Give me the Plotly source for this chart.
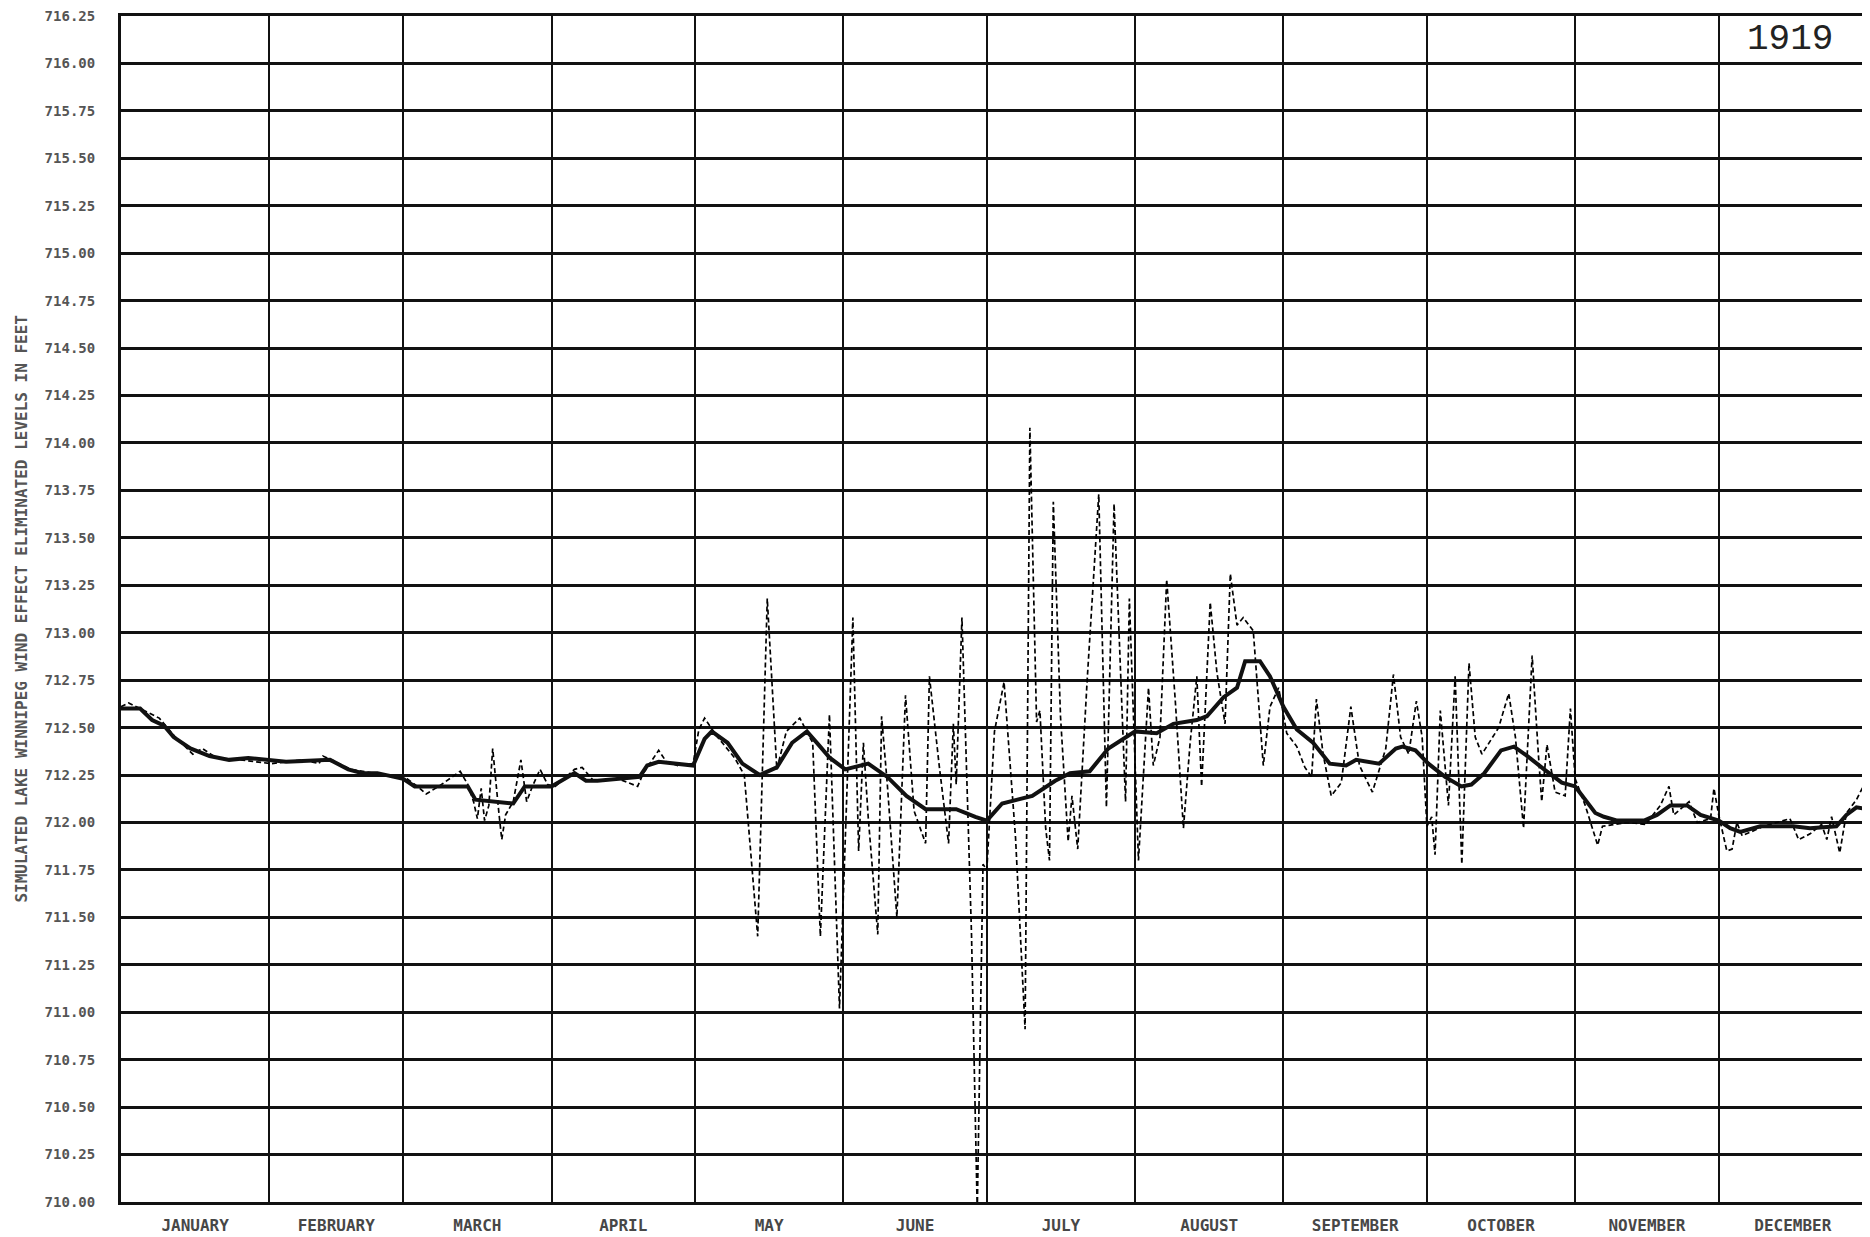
import plotly.graph_objects as go

# ---------------- data ----------------
month_names = ["JANUARY", "FEBRUARY", "MARCH", "APRIL", "MAY", "JUNE",
               "JULY", "AUGUST", "SEPTEMBER", "OCTOBER", "NOVEMBER", "DECEMBER"]
month_starts = [0, 31, 59, 90, 120, 151, 181, 212, 243, 273, 304, 334, 365]

y_ticks = [710.00, 710.25, 710.50, 710.75, 711.00, 711.25, 711.50, 711.75,
           712.00, 712.25, 712.50, 712.75, 713.00, 713.25, 713.50, 713.75,
           714.00, 714.25, 714.50, 714.75, 715.00, 715.25, 715.50, 715.75,
           716.00, 716.25]

year_label = "1919"
y_title = "SIMULATED LAKE WINNIPEG WIND EFFECT ELIMINATED LEVELS IN FEET"

# smoothed (solid) series: day of year, level (ft)
solid_day = [0, 4, 6.5, 9, 11, 14.5, 18.5, 22.6, 26.6, 30.6,
             34.5, 43.7, 47.5, 50.5, 53.6, 59, 61.4, 72.5, 74.1, 82,
             84.4, 90, 94.8, 97.2, 99.6, 108.4, 110, 112.4, 119.6, 122,
             123.5, 126.8, 129.9, 133.5, 137.1, 140.3, 143.4, 145.8, 148.2, 151.4,
             156.2, 160.2, 164.2, 168.2, 174.6, 178.6, 181, 184.2, 190.5, 195.3,
             198.4, 202.5, 206.4, 212, 216.5, 220, 224.9, 227, 230.5, 233.3,
             235, 238.1, 240.2, 243, 245.8, 249.2, 252.7, 256.1, 258.2, 263,
             266.5, 267.9, 270.6, 273.3, 276.8, 280.2, 282.3, 285, 288.5, 291.2,
             294, 297.5, 301.2, 304, 308.2, 310, 312.8, 318.4, 321.1, 323.9,
             327.4, 330.2, 334, 336.4, 338.5, 342.7, 349.6, 353.1, 358.6, 360.7,
             362.8, 365]
solid_val = [712.60, 712.60, 712.54, 712.51, 712.45, 712.39, 712.35, 712.33, 712.34, 712.33,
             712.32, 712.33, 712.28, 712.26, 712.26, 712.23, 712.19, 712.19, 712.12, 712.10,
             712.19, 712.19, 712.26, 712.22, 712.22, 712.24, 712.30, 712.32, 712.30, 712.44,
             712.48, 712.42, 712.31, 712.25, 712.29, 712.42, 712.48, 712.41, 712.34, 712.28,
             712.31, 712.24, 712.14, 712.07, 712.07, 712.03, 712.01, 712.10, 712.14, 712.22,
             712.26, 712.27, 712.39, 712.48, 712.47, 712.52, 712.54, 712.56, 712.66, 712.71,
             712.85, 712.85, 712.77, 712.61, 712.49, 712.42, 712.31, 712.30, 712.33, 712.31,
             712.39, 712.40, 712.38, 712.31, 712.24, 712.19, 712.20, 712.26, 712.38, 712.40,
             712.35, 712.28, 712.21, 712.19, 712.05, 712.03, 712.01, 712.01, 712.04, 712.09,
             712.09, 712.04, 712.01, 711.97, 711.95, 711.98, 711.98, 711.97, 711.98, 712.04,
             712.08, 712.07]

# raw (dashed) series: day of year, level (ft)
raw_day = [0, 1.6, 4, 8, 11, 15, 17, 20, 25, 31.4,
           38, 41.4, 42.2, 44, 48, 53, 59.8, 62, 63.8, 67,
           70.9, 72.5, 73.7, 74.5, 75.3, 76, 76.9, 77.7, 78.4, 79,
           79.6, 80.4, 82, 83.6, 84.8, 86, 87.6, 89.2, 90.8, 94.8,
           96.4, 98.8, 104, 108, 109.2, 112.4, 114, 116.4, 119.6, 120.8,
           122, 124.4, 128.3, 130.3, 133.1, 135.1, 137.1, 139.1, 141.9, 144.6,
           146.2, 148.1, 150.2, 153, 154.2, 155.2, 156.2, 158.2, 159, 160.2,
           162.2, 164, 165.8, 168.2, 169, 171, 173, 174, 174.6, 175.8,
           177.8, 179, 180.2, 181, 182.6, 184.6, 187, 189, 190, 191.4,
           192.1, 193.3, 194.1, 194.9, 196.4, 198, 198.8, 200, 202, 204.4,
           206, 207.6, 210, 210.8, 212.7, 214.8, 215.8, 217.2, 218.6, 220.4,
           222.1, 223.5, 224.9, 225.9, 227.7, 229.1, 230.8, 231.9, 233.3, 234.6,
           236.7, 238.8, 240.2, 242, 243.7, 245.8, 247.5, 248.9, 249.9, 251.3,
           253, 255.1, 257.1, 258.9, 261.6, 263, 264.4, 266, 267.5, 269.2,
           270.8, 272, 273, 274, 274.7, 275.8, 277.5, 278.9, 280.3, 281.8,
           283.1, 284.5, 288, 290.1, 291.5, 293.2, 295, 296.3, 297, 298.1,
           299.8, 301.9, 303, 304, 306.1, 308.7, 309.7, 314.9, 318.7, 321.8,
           323.6, 324.6, 327.8, 329.5, 332.3, 333, 334, 335.7, 336.8, 337.8,
           338.9, 343.4, 348.9, 350.7, 353.1, 355.5, 356.6, 357.6, 359.3, 360.7,
           362.8, 364.2, 365]
raw_val = [712.61, 712.63, 712.60, 712.55, 712.46, 712.36, 712.39, 712.34, 712.33, 712.31,
           712.33, 712.31, 712.35, 712.33, 712.28, 712.26, 712.23, 712.19, 712.15, 712.20,
           712.27, 712.20, 712.11, 712.02, 712.18, 712.01, 712.09, 712.39, 712.19, 712.05,
           711.91, 712.04, 712.11, 712.33, 712.11, 712.19, 712.28, 712.20, 712.19, 712.28,
           712.29, 712.22, 712.23, 712.19, 712.26, 712.38, 712.32, 712.30, 712.31, 712.49,
           712.55, 712.46, 712.34, 712.25, 711.40, 713.18, 712.28, 712.48, 712.55, 712.42,
           711.40, 712.57, 711.02, 713.08, 711.85, 712.42, 712.03, 711.41, 712.56, 712.20,
           711.50, 712.67, 712.06, 711.89, 712.77, 712.31, 711.89, 712.52, 712.20, 713.08,
           711.41, 709.95, 711.78, 711.75, 712.48, 712.74, 711.92, 710.91, 714.08, 712.53,
           712.59, 711.97, 711.80, 713.69, 712.56, 711.90, 712.14, 711.86, 712.76, 713.73,
           712.08, 713.68, 712.11, 713.18, 711.80, 712.71, 712.30, 712.45, 713.28, 712.64,
           711.97, 712.42, 712.77, 712.19, 713.16, 712.79, 712.52, 713.31, 713.04, 713.08,
           713.01, 712.30, 712.61, 712.71, 712.47, 712.40, 712.29, 712.24, 712.65, 712.36,
           712.14, 712.21, 712.61, 712.30, 712.16, 712.27, 712.39, 712.78, 712.45, 712.36,
           712.64, 712.45, 711.98, 712.03, 711.83, 712.59, 712.09, 712.77, 711.78, 712.84,
           712.45, 712.36, 712.50, 712.68, 712.45, 711.97, 712.88, 712.36, 712.11, 712.41,
           712.16, 712.14, 712.60, 712.23, 712.09, 711.88, 711.98, 712.00, 711.99, 712.09,
           712.19, 712.04, 712.11, 712.00, 712.02, 712.18, 712.04, 711.85, 711.86, 712.00,
           711.93, 711.98, 712.02, 711.91, 711.94, 711.99, 711.91, 712.03, 711.84, 712.05,
           712.12, 712.19, 712.17]

# ---------------- figure ----------------
month_mid = [(month_starts[i] + month_starts[i + 1]) / 2 for i in range(12)]

fig = go.Figure()
fig.add_trace(go.Scatter(x=raw_day, y=raw_val, mode="lines",
                         line=dict(color="#000000", width=1.7, dash="5px,3px"),
                         cliponaxis=False, hoverinfo="skip"))
fig.add_trace(go.Scatter(x=solid_day, y=solid_val, mode="lines",
                         line=dict(color="#111111", width=4),
                         hoverinfo="skip"))

ytick_font = dict(family="DejaVu Sans Mono", size=14, color="#555555", weight="bold")
xtick_font = dict(family="DejaVu Sans Mono", size=16, color="#474747", weight="bold")

fig.update_xaxes(range=[0, 365], tickmode="array", tickvals=month_mid,
                 ticktext=month_names, ticks="outside", ticklen=7,
                 tickcolor="rgba(0,0,0,0)", showgrid=False, zeroline=False,
                 tickfont=xtick_font,
                 minor=dict(tickmode="array", tickvals=month_starts, showgrid=True,
                            gridcolor="#111111", gridwidth=2, ticks=""),
                 showline=True, linecolor="#111111", linewidth=3, mirror=True)
fig.update_yaxes(range=[710, 716.25], tickmode="array", tickvals=y_ticks,
                 ticktext=[f"{v:.2f}" for v in y_ticks], ticks="outside",
                 ticklen=20, tickcolor="rgba(0,0,0,0)", showgrid=True,
                 gridcolor="#111111", gridwidth=2.5, zeroline=False,
                 tickfont=ytick_font, ticklabeloverflow="allow",
                 showline=True, linecolor="#111111", linewidth=3, mirror=True)

fig.add_annotation(text=y_title, xref="paper", yref="paper", x=-0.0575, y=0.5,
                   textangle=-90, showarrow=False, xanchor="center", yanchor="middle",
                   font=dict(family="DejaVu Sans Mono", size=16, color="#555555",
                             weight="bold"))
fig.add_annotation(text=year_label, x=349, y=716.125, xref="x", yref="y",
                   showarrow=False, xanchor="center", yanchor="middle",
                   font=dict(family="Liberation Mono", size=36, color="#222222"))

fig.update_layout(width=1862, height=1229,
                  margin=dict(l=113, r=0, t=6, b=35),
                  paper_bgcolor="white", plot_bgcolor="white",
                  showlegend=False)

fig.write_html("out.html")
